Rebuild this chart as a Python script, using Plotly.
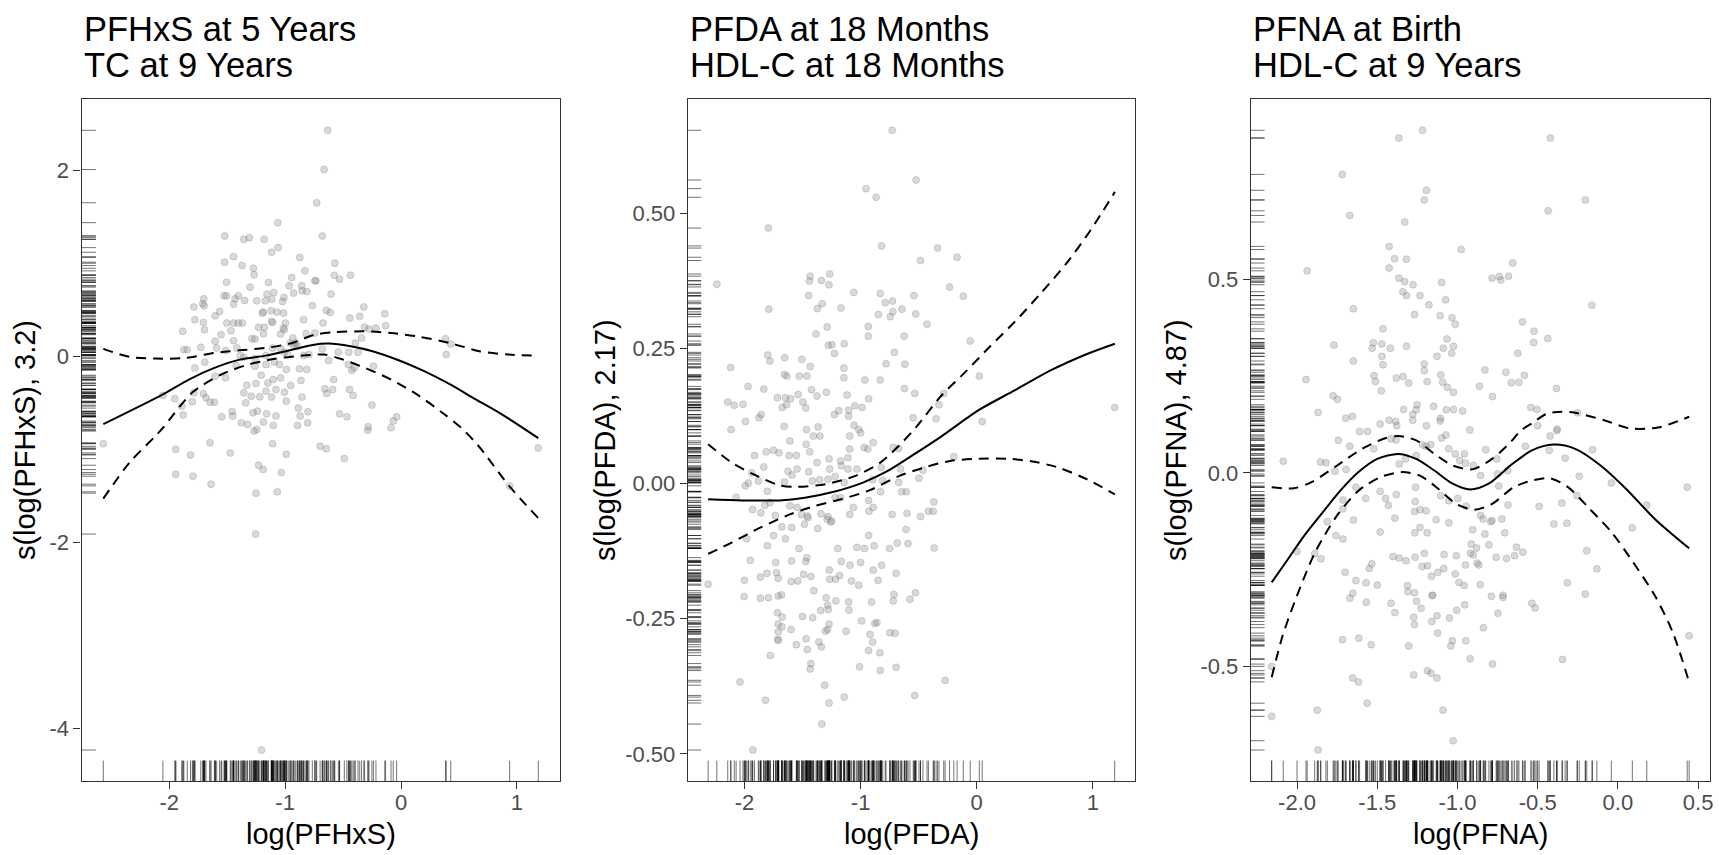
import plotly.graph_objects as go

W, H = 1719, 855
FONT = "Liberation Sans, Arial, Helvetica, sans-serif"

# ---------------- text ----------------
titles = [["PFHxS at 5 Years", "TC at 9 Years"],
          ["PFDA at 18 Months", "HDL-C at 18 Months"],
          ["PFNA at Birth", "HDL-C at 9 Years"]]
x_titles = ["log(PFHxS)", "log(PFDA)", "log(PFNA)"]
y_titles = ["s(log(PFHxS), 3.2)", "s(log(PFDA), 2.17)", "s(log(PFNA), 4.87)"]

# ---------------- ticks ----------------
x_ticks_1 = [-2, -1, 0, 1]
x_ticklabels_1 = ["-2", "-1", "0", "1"]
y_ticks_1 = [-4, -2, 0, 2]
y_ticklabels_1 = ["-4", "-2", "0", "2"]
x_ticks_2 = [-2, -1, 0, 1]
x_ticklabels_2 = ["-2", "-1", "0", "1"]
y_ticks_2 = [-0.5, -0.25, 0, 0.25, 0.5]
y_ticklabels_2 = ["-0.50", "-0.25", "0.00", "0.25", "0.50"]
x_ticks_3 = [-2, -1.5, -1, -0.5, 0, 0.5]
x_ticklabels_3 = ["-2.0", "-1.5", "-1.0", "-0.5", "0.0", "0.5"]
y_ticks_3 = [-0.5, 0, 0.5]
y_ticklabels_3 = ["-0.5", "0.0", "0.5"]

# ---------------- panel 1: PFHxS ----------------
p1_x = [
    -0.632, -0.663, -0.727, -1.063, -0.679, -1.521, -1.356, -1.308, -1.181, -1.060,
    -1.117, -1.444, -1.521, -1.371, -1.273, -1.267, -0.873, -0.571, -0.829, -0.943,
    -0.575, -0.530, -0.435, -1.505, -1.143, -0.743, -0.733, -0.965, -0.857, -1.302,
    -0.927, -0.813, -0.854, -1.098, -1.156, -1.527, -1.505, -1.403, -1.010, -0.603,
    -1.702, -1.432, -1.349, -1.244, -1.171, -1.114, -1.022, -1.444, -1.711, -1.787,
    -1.698, -0.765, -0.321, -1.565, -1.603, -1.197, -1.187, -1.121, -1.070, -1.013,
    -0.644, -0.610, -0.140, -1.778, -1.705, -1.502, -1.444, -1.403, -1.368, -1.229,
    -1.178, -1.117, -1.108, -0.997, -0.841, -0.673, -0.441, -0.356, -1.695, -1.883,
    -1.552, -1.467, -1.187, -1.038, -1.006, -1.016, -0.819, -0.743, -0.314, -0.276,
    -0.216, -0.133, -1.444, -1.286, -1.260, -1.603, -0.933, -0.908, -0.956, -0.394,
    -0.340, 0.384, 0.429, -1.873, -1.844, -1.727, -1.590, -1.416, -1.514, -1.108,
    -1.038, -1.006, -0.921, -0.895, -0.679, -0.451, -0.371, 0.390, -1.387, -1.356,
    -1.260, -1.165, -0.975, -0.841, -0.794, -0.540, -1.778, -1.692, -1.422, -1.260,
    -1.165, -1.092, -1.048, -0.990, -0.876, -0.813, -0.625, -0.454, -0.403, -0.425,
    -0.238, -1.603, -1.514, -1.206, -1.102, -1.038, -0.863, -0.581, -1.251, -1.149,
    -0.952, -1.330, -2.054, -1.952, -1.892, -1.800, -1.705, -1.683, -1.648, -1.610,
    -1.787, -1.356, -1.340, -1.292, -1.219, -1.165, -1.117, -1.079, -1.006, -0.990,
    -0.854, -0.657, -0.641, -0.590, -0.444, -0.413, -0.251, -1.879, -1.546, -1.457,
    -1.451, -1.276, -1.238, -1.159, -1.079, -0.886, -0.870, -0.803, -0.530, -0.467,
    -0.038, -0.067, -1.378, -1.324, -1.187, -1.102, -0.892, -0.806, -0.283, -0.086,
    -1.244, -2.568, -1.943, -1.816, -1.648, -1.473, -1.108, -0.990, -0.698, -0.644,
    -0.489, -1.229, -1.190, -1.032, -1.943, -1.794, -1.638, -1.251, -1.067, 0.937,
    1.184, -1.254, -1.203, -1.267, -0.286,
]
p1_y = [
    2.429, 2.007, 1.650, 1.436, 1.293, 1.293, 1.257, 1.275, 1.257, 1.168,
    1.118, 1.071, 1.011, 0.975, 0.946, 0.875, 1.061, 1.000, 0.918, 0.846,
    0.871, 0.829, 0.871, 0.796, 0.793, 0.811, 0.811, 0.757, 0.757, 0.743,
    0.679, 0.696, 0.704, 0.686, 0.668, 0.650, 0.650, 0.650, 0.632, 0.668,
    0.618, 0.618, 0.600, 0.596, 0.596, 0.614, 0.589, 0.561, 0.564, 0.529,
    0.543, 0.546, 0.529, 0.482, 0.436, 0.464, 0.475, 0.489, 0.475, 0.464,
    0.493, 0.471, 0.457, 0.393, 0.364, 0.357, 0.357, 0.357, 0.357, 0.311,
    0.311, 0.375, 0.364, 0.357, 0.393, 0.357, 0.411, 0.429, 0.286, 0.268,
    0.232, 0.275, 0.243, 0.239, 0.286, 0.304, 0.243, 0.250, 0.311, 0.293,
    0.304, 0.329, 0.168, 0.189, 0.186, 0.161, 0.196, 0.143, 0.143, 0.143,
    0.196, 0.189, 0.132, 0.071, 0.071, 0.096, 0.089, 0.089, 0.061, 0.089,
    0.082, 0.043, 0.107, 0.107, 0.079, 0.043, 0.043, 0.018, 0.007, -0.011,
    -0.025, 0.007, 0.018, 0.007, 0.018, 0.046, -0.125, -0.064, -0.100, -0.107,
    -0.089, -0.061, -0.089, -0.143, -0.136, -0.143, -0.046, -0.089, -0.125, -0.150,
    -0.107, -0.214, -0.232, -0.204, -0.250, -0.232, -0.261, -0.250, -0.293, -0.286,
    -0.314, -0.311, -0.421, -0.454, -0.536, -0.489, -0.404, -0.446, -0.493, -0.493,
    -0.393, -0.393, -0.500, -0.429, -0.436, -0.375, -0.439, -0.357, -0.386, -0.482,
    -0.439, -0.350, -0.400, -0.357, -0.357, -0.421, -0.525, -0.632, -0.650, -0.593,
    -0.643, -0.607, -0.589, -0.618, -0.643, -0.557, -0.643, -0.596, -0.618, -0.650,
    -0.650, -0.696, -0.714, -0.732, -0.707, -0.743, -0.743, -0.714, -0.757, -0.768,
    -0.786, -0.939, -1.000, -1.061, -0.929, -1.039, -0.939, -1.054, -0.968, -0.993,
    -1.100, -1.171, -1.218, -1.250, -1.268, -1.289, -1.375, -1.471, -1.457, -1.393,
    -0.986, -1.911, -4.232, -0.804, -0.796,
]
fit1_x = [-2.568, -2.054, -1.83, -1.61, -1.39, -1.165, -0.94, -0.75, -0.625, -0.435,
          -0.245, -0.02, 0.2, 0.42, 0.64, 0.87, 1.184]
fit1_y = [-0.73, -0.41, -0.25, -0.125, -0.036, 0.007, 0.07, 0.125, 0.136, 0.107,
          0.054, -0.043, -0.16, -0.30, -0.46, -0.625, -0.88]
up1_x = [-2.568, -2.34, -2.12, -1.86, -1.61, -1.39, -1.165, -0.94, -0.75, -0.59,
         -0.31, -0.086, 0.137, 0.42, 0.676, 0.93, 1.184]
up1_y = [0.08, -0.007, -0.025, -0.018, 0.036, 0.064, 0.09, 0.143, 0.23, 0.257,
         0.268, 0.25, 0.214, 0.143, 0.054, 0.018, 0.007]
lo1_x = [-2.568, -2.34, -2.12, -2.054, -1.8, -1.55, -1.32, -1.10, -0.85, -0.66,
         -0.50, -0.31, -0.086, 0.137, 0.36, 0.52, 0.676, 0.93, 1.184]
lo1_y = [-1.53, -1.14, -0.86, -0.77, -0.39, -0.196, -0.09, -0.03, 0.007, 0.018,
         -0.036, -0.125, -0.25, -0.41, -0.61, -0.77, -0.975, -1.39, -1.74]

# ---------------- panel 2: PFDA ----------------
p2_x = [
    -0.728, -0.522, -0.953, -0.866, -1.794, -0.819, -0.338, -0.169, -0.484, -2.238,
    -1.434, -1.266, -1.441, -1.338, -1.272, -0.234, -1.059, -1.447, -0.831, -0.541,
    -0.116, -0.725, -0.788, -1.331, -1.372, -1.169, -1.791, -0.644, -0.847, -0.744,
    -0.722, -0.525, -0.428, -1.288, -0.934, -0.934, -0.625, -1.384, -1.278, -1.247,
    -1.141, -0.056, -1.225, -0.709, -1.800, -1.781, -1.653, -1.506, -2.119, -1.434,
    -1.144, -0.781, -0.619, -1.656, -1.634, -1.528, -1.463, -1.144, -0.963, -0.831,
    0.022, -1.969, -1.834, -1.422, -1.375, -1.294, -0.622, -0.534, -0.284, -1.538,
    -1.116, -0.931, -1.716, -1.647, -1.603, -1.638, -2.144, -2.088, -2.013, -1.497,
    -1.472, -1.675, -1.188, -1.225, -1.103, -1.103, -1.050, -0.988, -0.325, 1.188,
    -1.875, -1.856, -1.991, -0.547, -0.350, 0.047, -1.659, -1.366, -1.056, -1.466,
    -1.016, -2.116, -1.406, -1.609, -1.469, -1.350, -1.094, -1.000, -0.891, -0.969,
    -1.094, -0.938, -0.719, -0.672, -1.813, -1.750, -1.703, -1.616, -1.553, -1.913,
    -1.438, -1.272, -1.172, -1.109, -1.375, -1.166, -1.834, -1.625, -1.547, -1.447,
    -1.266, -1.109, -1.031, -0.822, -0.656, -0.197, -1.938, -1.966, -1.881, -1.656,
    -1.591, -1.416, -1.353, -1.281, -1.219, -1.141, -0.897, -0.809, -0.672, -0.647,
    -0.606, -0.497, -0.463, -1.994, -2.072, -1.803, -1.781, -1.825, -1.609, -1.547,
    -1.509, -1.453, -1.341, -1.281, -1.250, -1.219, -1.172, -1.094, -1.063, -0.931,
    -0.928, -0.891, -0.828, -0.728, -0.600, -0.484, -0.416, -0.369, -0.375, -1.931,
    -1.859, -1.734, -1.678, -1.594, -1.484, -1.459, -1.369, -1.288, -1.256, -0.609,
    -1.981, -1.750, -1.647, -1.803, -1.531, -1.197, -1.031, -0.966, -0.931, -0.884,
    -0.750, -0.684, -0.591, -0.366, -1.950, -1.731, -1.594, -1.463, -1.472, -1.166,
    -1.091, -1.000, -0.819, -1.863, -1.806, -1.725, -1.709, -2.000, -1.597, -1.541,
    -1.491, -1.428, -1.269, -1.266, -1.216, -1.181, -1.078, -1.016, -0.891, -0.850,
    -0.694, -2.313, -1.403, -2.003, -1.863, -1.794, -1.709, -1.681, -1.297, -1.213,
    -1.103, -0.906, -0.713, -0.719, -0.575, -0.528, -1.284, -1.278, -1.344, -1.100,
    -1.716, -1.675, -1.500, -1.413, -0.991, -0.859, -0.878, -1.709, -1.678, -1.709,
    -1.600, -1.272, -1.284, -1.303, -1.125, -0.919, -0.747, -0.703, -1.713, -1.709,
    -1.469, -1.553, -1.359, -1.338, -0.897, -0.931, -0.834, -1.459, -1.778, -1.428,
    -1.434, -1.009, -0.831, -0.694, -2.038, -1.309, -0.272, -1.819, -1.272, -1.141,
    -0.534, -1.334, -1.928,
]
p2_y = [
    0.654, 0.562, 0.546, 0.530, 0.473, 0.440, 0.436, 0.419, 0.413, 0.369,
    0.384, 0.388, 0.375, 0.376, 0.368, 0.364, 0.354, 0.348, 0.352, 0.348,
    0.347, 0.338, 0.335, 0.333, 0.324, 0.325, 0.323, 0.323, 0.313, 0.309,
    0.318, 0.314, 0.295, 0.290, 0.291, 0.273, 0.273, 0.277, 0.256, 0.257,
    0.259, 0.264, 0.241, 0.243, 0.238, 0.227, 0.233, 0.230, 0.215, 0.217,
    0.214, 0.222, 0.221, 0.202, 0.199, 0.199, 0.199, 0.196, 0.192, 0.192,
    0.199, 0.180, 0.175, 0.174, 0.162, 0.169, 0.176, 0.167, 0.167, 0.165,
    0.164, 0.157, 0.159, 0.159, 0.157, 0.146, 0.151, 0.145, 0.147, 0.151,
    0.140, 0.141, 0.135, 0.128, 0.136, 0.125, 0.144, 0.141, 0.146, 0.141,
    0.122, 0.128, 0.115, 0.122, 0.120, 0.115, 0.106, 0.105, 0.108, 0.100,
    0.100, 0.100, 0.088, 0.079, 0.073, 0.088, 0.088, 0.094, 0.076, 0.067,
    0.064, 0.064, 0.067, 0.065, 0.059, 0.062, 0.057, 0.052, 0.052, 0.052,
    0.059, 0.046, 0.042, 0.048, 0.039, 0.033, 0.031, 0.023, 0.027, 0.022,
    0.027, 0.027, 0.027, 0.030, 0.027, 0.050, 0.020, 0.001, 0.005, 0.003,
    0.016, 0.005, 0.007, 0.008, 0.013, 0.002, 0.007, 0.006, 0.002, -0.015,
    -0.015, 0.010, 0.025, -0.004, -0.025, -0.014, -0.035, -0.040, -0.041, -0.044,
    -0.057, -0.063, -0.056, -0.061, -0.069, -0.026, -0.026, -0.057, -0.044, -0.031,
    -0.051, -0.044, -0.015, -0.057, -0.055, -0.061, -0.051, -0.034, -0.051, -0.048,
    -0.054, -0.059, -0.080, -0.081, -0.075, -0.060, -0.083, -0.066, -0.071, -0.085,
    -0.102, -0.096, -0.102, -0.115, -0.120, -0.120, -0.118, -0.120, -0.096, -0.115,
    -0.120, -0.110, -0.111, -0.119, -0.142, -0.146, -0.143, -0.137, -0.144, -0.144,
    -0.151, -0.146, -0.151, -0.173, -0.166, -0.165, -0.175, -0.179, -0.181, -0.180,
    -0.168, -0.172, -0.160, -0.177, -0.177, -0.170, -0.180, -0.188, -0.160, -0.179,
    -0.166, -0.186, -0.198, -0.209, -0.212, -0.211, -0.208, -0.206, -0.211, -0.217,
    -0.219, -0.219, -0.205, -0.217, -0.214, -0.202, -0.225, -0.233, -0.235, -0.234,
    -0.239, -0.247, -0.246, -0.248, -0.254, -0.257, -0.259, -0.260, -0.265, -0.274,
    -0.270, -0.260, -0.270, -0.273, -0.273, -0.279, -0.276, -0.277, -0.288, -0.290,
    -0.287, -0.298, -0.293, -0.302, -0.293, -0.309, -0.313, -0.307, -0.318, -0.333,
    -0.343, -0.339, -0.346, -0.340, -0.367, -0.373, -0.364, -0.401, -0.406, -0.395,
    -0.392, -0.445, -0.493,
]
fit2_x = [-2.313, -2.02, -1.70, -1.48, -1.23, -0.98, -0.77, -0.52, -0.30, 0.016,
          0.33, 0.64, 0.95, 1.19]
fit2_y = [-0.029, -0.031, -0.031, -0.026, -0.015, 0.002, 0.023, 0.057, 0.088, 0.136,
          0.173, 0.21, 0.24, 0.259]
up2_x = [-2.313, -2.11, -1.92, -1.70, -1.55, -1.30, -1.05, -0.83, -0.67, -0.52,
         -0.30, -0.11, 0.11, 0.33, 0.55, 0.77, 0.98, 1.19]
up2_y = [0.073, 0.039, 0.017, -0.003, -0.006, -0.001, 0.014, 0.039, 0.07, 0.105,
         0.164, 0.204, 0.253, 0.30, 0.352, 0.407, 0.469, 0.54]
lo2_x = [-2.313, -2.11, -1.86, -1.61, -1.39, -1.17, -0.92, -0.67, -0.45, -0.23,
         0.016, 0.27, 0.48, 0.70, 0.95, 1.19]
lo2_y = [-0.13, -0.109, -0.081, -0.057, -0.041, -0.029, -0.012, 0.014, 0.030, 0.042,
         0.046, 0.046, 0.041, 0.030, 0.008, -0.02]

# ---------------- panel 3: PFNA ----------------
p3_x = [
    -1.218, -1.365, -0.421, -1.718, -1.194, -1.207, -0.203, -1.671, -0.435, -1.329,
    -1.426, -0.977, -1.392, -1.318, -0.655, -1.426, -1.937, -0.784, -0.739, -0.730,
    -0.682, -1.365, -1.329, -1.277, -1.099, -1.340, -1.318, -1.234, -1.074, -1.178,
    -0.162, -1.649, -1.268, -1.108, -1.034, -1.014, -0.595, -1.464, -0.523, -0.525,
    -0.437, -1.770, -1.525, -1.532, -1.471, -1.419, -1.318, -1.065, -1.088, -1.025,
    -1.036, -0.624, -1.128, -1.649, -1.471, -1.464, -1.207, -1.207, -0.829, -0.698,
    -0.583, -1.944, -1.520, -1.511, -1.381, -1.338, -1.304, -1.189, -1.104, -1.092,
    -1.063, -1.025, -0.863, -0.664, -0.617, -0.383, -1.475, -1.775, -1.748, -0.782,
    -1.252, -1.149, -1.336, -1.279, -1.257, -1.070, -1.025, -0.968, -0.543, -0.505,
    -1.869, -1.696, -1.655, -1.106, -1.108, -1.426, -1.385, -1.279, -0.252, -1.194,
    -0.500, -1.482, -1.378, -0.923, -0.378, -2.086, -1.854, -1.820, -1.764, -1.694,
    -1.743, -1.671, -1.610, -1.561, -1.523, -1.414, -1.383, -1.363, -1.324, -1.257,
    -1.218, -1.196, -1.167, -1.099, -1.072, -1.054, -1.014, -0.986, -0.957, -0.950,
    -0.901, -0.856, -0.824, -0.755, -0.750, -0.687, -0.577, -0.428, -0.423, -0.381,
    -0.329, -0.158, -0.241, -0.041, 0.432, -1.633, -1.572, -1.482, -1.448, -1.430,
    -1.381, -1.261, -1.264, -1.234, -1.268, -1.196, -1.104, -1.054, -0.998, -0.946,
    -0.856, -0.840, -0.743, -0.723, -0.685, -0.491, -0.349, -0.255, -1.714, -1.714,
    -1.811, -1.649, -1.482, -1.390, -1.266, -1.234, -1.189, -1.133, -1.054, -0.905,
    -0.829, -0.784, -0.793, -0.705, -0.399, -0.318, 0.090, 0.180, -1.757, -1.714,
    -0.914, -0.881, -0.804, -0.631, -0.592, -2.000, -1.890, -1.851, -1.401, -1.363,
    -1.320, -1.264, -1.207, -1.083, -1.007, -0.919, -0.901, -0.878, -0.950, -0.759,
    -0.694, -0.644, -0.194, -1.700, -1.633, -1.570, -1.550, -1.534, -1.500, -1.221,
    -1.187, -1.122, -1.162, -1.086, -1.014, -0.991, -0.959, -0.867, -0.858, -0.131,
    -0.315, -1.653, -1.671, -1.311, -1.268, -1.309, -1.255, -1.155, -1.158, -0.788,
    -0.716, -0.716, -0.203, -1.568, -1.414, -1.390, -1.227, -1.128, -1.160, -1.050,
    -1.005, -0.955, -0.748, -0.536, -0.516, -1.273, -1.268, -1.124, -0.838, -1.716,
    -1.615, -1.538, -1.304, -1.041, -1.032, -0.948, -0.921, -0.782, -0.345, 0.444,
    -2.158, -1.653, -1.617, -1.273, -1.187, -1.164, -1.128, -1.563, -1.874, -1.090,
    -2.158, -1.869, -1.027,
]
p3_y = [
    0.885, 0.865, 0.865, 0.771, 0.730, 0.705, 0.705, 0.665, 0.677, 0.648,
    0.585, 0.577, 0.553, 0.552, 0.542, 0.529, 0.522, 0.503, 0.507, 0.498,
    0.508, 0.503, 0.494, 0.486, 0.492, 0.468, 0.458, 0.458, 0.447, 0.434,
    0.433, 0.424, 0.409, 0.406, 0.401, 0.384, 0.390, 0.372, 0.366, 0.337,
    0.347, 0.330, 0.336, 0.322, 0.333, 0.322, 0.327, 0.346, 0.322, 0.327,
    0.309, 0.309, 0.301, 0.289, 0.301, 0.279, 0.281, 0.264, 0.266, 0.260,
    0.252, 0.241, 0.251, 0.236, 0.245, 0.249, 0.232, 0.236, 0.253, 0.234,
    0.221, 0.208, 0.224, 0.233, 0.234, 0.218, 0.212, 0.199, 0.190, 0.197,
    0.176, 0.172, 0.164, 0.151, 0.163, 0.163, 0.164, 0.160, 0.169, 0.164,
    0.156, 0.141, 0.146, 0.141, 0.134, 0.136, 0.133, 0.136, 0.155, 0.122,
    0.122, 0.126, 0.122, 0.111, 0.113, 0.030, 0.028, 0.026, 0.004, 0.009,
    0.084, 0.069, 0.107, 0.107, 0.062, 0.088, 0.085, 0.023, 0.036, 0.045,
    0.072, 0.069, 0.073, 0.090, 0.098, 0.062, 0.049, 0.032, 0.049, 0.025,
    0.019, -0.007, 0.060, 0.036, -0.003, 0.006, 0.069, 0.058, 0.095, 0.109,
    0.038, 0.060, -0.009, -0.026, -0.037, -0.037, -0.066, -0.048, -0.066, -0.084,
    -0.056, -0.037, -0.074, -0.095, -0.100, -0.098, -0.059, -0.072, -0.066, -0.086,
    -0.110, -0.119, -0.034, -0.119, -0.083, -0.087, -0.078, -0.059, -0.070, -0.093,
    -0.126, -0.122, -0.153, -0.117, -0.155, -0.141, -0.155, -0.121, -0.129, -0.147,
    -0.158, -0.123, -0.126, -0.155, -0.132, -0.130, -0.142, -0.083, -0.162, -0.171,
    -0.184, -0.194, -0.186, -0.192, -0.205, -0.203, -0.209, -0.222, -0.216, -0.220,
    -0.227, -0.218, -0.208, -0.211, -0.214, -0.208, -0.212, -0.233, -0.238, -0.218,
    -0.221, -0.214, -0.201, -0.257, -0.278, -0.284, -0.247, -0.235, -0.290, -0.242,
    -0.240, -0.257, -0.267, -0.247, -0.261, -0.283, -0.291, -0.238, -0.289, -0.248,
    -0.284, -0.311, -0.324, -0.291, -0.310, -0.307, -0.332, -0.316, -0.317, -0.319,
    -0.316, -0.322, -0.313, -0.334, -0.337, -0.361, -0.350, -0.369, -0.384, -0.375,
    -0.355, -0.341, -0.363, -0.337, -0.349, -0.373, -0.392, -0.414, -0.400, -0.431,
    -0.427, -0.444, -0.447, -0.447, -0.434, -0.434, -0.480, -0.494, -0.482, -0.421,
    -0.500, -0.530, -0.540, -0.522, -0.511, -0.518, -0.530, -0.595, -0.613, -0.613,
    -0.629, -0.716, -0.692,
]
fit3_x = [-2.158, -2.07, -1.955, -1.84, -1.73, -1.617, -1.50, -1.37, -1.257, -1.144,
          -1.03, -0.92, -0.806, -0.67, -0.536, -0.40, -0.266, -0.108, 0.05, 0.23, 0.444]
fit3_y = [-0.283, -0.231, -0.162, -0.102, -0.046, 0.002, 0.036, 0.049, 0.036, 0.006,
          -0.028, -0.043, -0.028, 0.019, 0.058, 0.073, 0.062, 0.019, -0.041, -0.119, -0.195]
up3_x = [-2.158, -2.02, -1.91, -1.75, -1.595, -1.46, -1.37, -1.257, -1.144, -1.03,
         -0.908, -0.784, -0.67, -0.604, -0.536, -0.446, -0.35, -0.266, -0.086, 0.072,
         0.25, 0.444]
up3_y = [-0.037, -0.040, -0.024, 0.019, 0.062, 0.088, 0.095, 0.084, 0.049, 0.019,
         0.009, 0.036, 0.079, 0.11, 0.128, 0.152, 0.158, 0.155, 0.136, 0.115,
         0.117, 0.145]
lo3_x = [-2.158, -2.09, -2.0, -1.887, -1.75, -1.617, -1.48, -1.347, -1.234, -1.12,
         -1.009, -0.896, -0.784, -0.649, -0.536, -0.423, -0.311, -0.176, -0.04, 0.095,
         0.23, 0.342, 0.444]
lo3_y = [-0.528, -0.421, -0.317, -0.205, -0.110, -0.046, -0.011, 0.002, -0.007, -0.041,
         -0.080, -0.095, -0.080, -0.037, -0.020, -0.014, -0.037, -0.093, -0.153, -0.231,
         -0.317, -0.412, -0.541]

# ---------------- layout geometry (pixels) ----------------
panel_left = [81.7, 689.0, 1253.0]
panel_right = [561.0, 1137.0, 1713.0]
panel_top, panel_bottom = 99.3, 781.0
ytitle_center = [25.0, 606.0, 1178.0]
RUG = 0.03

panels = [
    dict(px=p1_x, py=p1_y, fx=fit1_x, fy=fit1_y, ux=up1_x, uy=up1_y, lx=lo1_x, ly=lo1_y,
         xt=x_ticks_1, xtl=x_ticklabels_1, yt=y_ticks_1, ytl=y_ticklabels_1),
    dict(px=p2_x, py=p2_y, fx=fit2_x, fy=fit2_y, ux=up2_x, uy=up2_y, lx=lo2_x, ly=lo2_y,
         xt=x_ticks_2, xtl=x_ticklabels_2, yt=y_ticks_2, ytl=y_ticklabels_2),
    dict(px=p3_x, py=p3_y, fx=fit3_x, fy=fit3_y, ux=up3_x, uy=up3_y, lx=lo3_x, ly=lo3_y,
         xt=x_ticks_3, xtl=x_ticklabels_3, yt=y_ticks_3, ytl=y_ticklabels_3),
]


def expand(vals):
    lo, hi = min(vals), max(vals)
    pad = 0.05 * (hi - lo)
    return [lo - pad, hi + pad]


fig = go.Figure()
layout = dict(
    width=W, height=H, margin=dict(l=0, r=0, t=0, b=0),
    paper_bgcolor="white", plot_bgcolor="white", showlegend=False,
    font=dict(family=FONT, color="black"),
)
annotations = []
ydom = [(H - panel_bottom) / H, (H - panel_top) / H]

for i, p in enumerate(panels):
    k = i + 1
    kx = "" if k == 1 else str(k)
    ox = str(k + 3)
    xa, ya = "x" + kx, "y" + kx
    oxa, oya = "x" + ox, "y" + ox
    xdom = [panel_left[i] / W, panel_right[i] / W]
    xr = expand(p["px"])
    yr = expand(p["py"] + p["uy"] + p["ly"])
    axis_common = dict(
        showline=True, mirror=True, linecolor="#333333", linewidth=1.2,
        ticks="outside", ticklen=7, tickwidth=1.2, tickcolor="#333333",
        showgrid=False, zeroline=False,
        tickfont=dict(family=FONT, size=22, color="#4D4D4D"),
    )
    layout["xaxis" + kx] = dict(domain=xdom, anchor=ya, range=xr, tickmode="array",
                                tickvals=p["xt"], ticktext=p["xtl"],
                                ticklabelstandoff=-6, **axis_common)
    layout["yaxis" + kx] = dict(domain=ydom, anchor=xa, range=yr, tickmode="array",
                                tickvals=p["yt"], ticktext=p["ytl"], **axis_common)
    layout["xaxis" + ox] = dict(overlaying=xa, anchor=ya, range=[0, 1], visible=False,
                                fixedrange=True)
    layout["yaxis" + ox] = dict(overlaying=ya, anchor=xa, range=[0, 1], visible=False,
                                fixedrange=True)

    # points
    fig.add_trace(go.Scatter(
        x=p["px"], y=p["py"], mode="markers", xaxis=xa, yaxis=ya,
        marker=dict(size=7, color="rgba(128,128,128,0.30)",
                    line=dict(color="rgba(110,110,110,0.30)", width=0.8)),
        hoverinfo="skip"))
    # bottom rug
    rx, ry = [], []
    for v in p["px"]:
        rx += [v, v, None]
        ry += [0, RUG, None]
    fig.add_trace(go.Scatter(x=rx, y=ry, mode="lines", xaxis=xa, yaxis=oya,
                             line=dict(color="rgba(0,0,0,0.55)", width=1),
                             hoverinfo="skip"))
    # left rug
    lx, ly = [], []
    for v in p["py"]:
        lx += [0, RUG, None]
        ly += [v, v, None]
    fig.add_trace(go.Scatter(x=lx, y=ly, mode="lines", xaxis=oxa, yaxis=ya,
                             line=dict(color="rgba(0,0,0,0.55)", width=1),
                             hoverinfo="skip"))
    # confidence bands
    for cx, cy in ((p["ux"], p["uy"]), (p["lx"], p["ly"])):
        fig.add_trace(go.Scatter(x=cx, y=cy, mode="lines", xaxis=xa, yaxis=ya,
                                 line=dict(color="black", width=2, dash="10px,7px",
                                           shape="spline", smoothing=0.8),
                                 hoverinfo="skip"))
    # fit
    fig.add_trace(go.Scatter(x=p["fx"], y=p["fy"], mode="lines", xaxis=xa, yaxis=ya,
                             line=dict(color="black", width=2, shape="spline",
                                       smoothing=0.8),
                             hoverinfo="skip"))

    # titles
    for j, line in enumerate(titles[i]):
        annotations.append(dict(
            text=line, xref="paper", yref="paper", x=panel_left[i] / W,
            y=(H - (29 + 36 * j)) / H, xanchor="left", yanchor="middle",
            showarrow=False, font=dict(family=FONT, size=34.5, color="black")))
    # x-axis title
    annotations.append(dict(
        text=x_titles[i], xref="paper", yref="paper",
        x=(panel_left[i] + panel_right[i]) / 2 / W, y=(H - 834) / H,
        xanchor="center", yanchor="middle", showarrow=False,
        font=dict(family=FONT, size=29, color="black")))
    # y-axis title
    annotations.append(dict(
        text=y_titles[i], xref="paper", yref="paper", textangle=-90,
        x=ytitle_center[i] / W, y=(H - (panel_top + panel_bottom) / 2) / H,
        xanchor="center", yanchor="middle", showarrow=False,
        font=dict(family=FONT, size=29, color="black")))

layout["annotations"] = annotations
fig.update_layout(**layout)
fig.write_html("out.html")
